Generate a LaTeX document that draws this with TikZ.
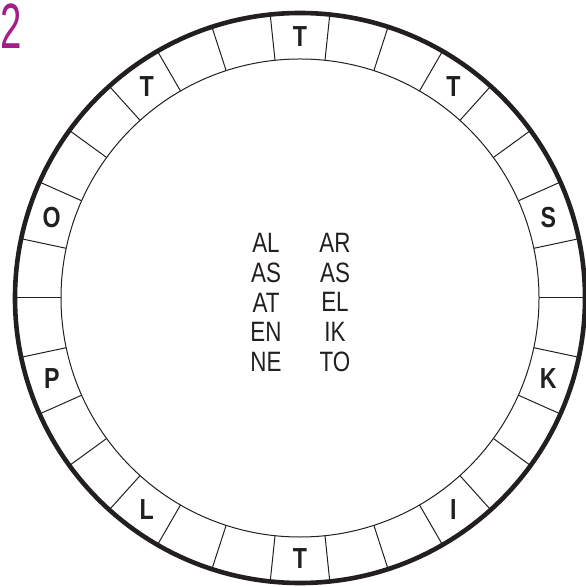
\documentclass[tikz,border=0pt]{standalone}
\usepackage{fontspec}
\setmainfont{Liberation Sans}[FakeStretch=0.8]
\newfontfamily\numberfont{Liberation Sans}[FakeStretch=0.6]
\usepackage{tikz}
\definecolor{ringcolor}{RGB}{35, 31, 32}
\definecolor{numbercolor}{RGB}{163, 30, 138}
\tikzset{
ringletter/.style={
  font=\fontsize{14.5}{14.5}\selectfont\bfseries,
  text=ringcolor,
  inner sep=0pt
},
wordlist/.style={
  align=center,
  font=\fontsize{14}{14.9}\selectfont,
  text=ringcolor,
  inner sep=0pt
},
puzzlenumber/.style={
  font=\numberfont\fontsize{32}{32}\selectfont,
  text=numbercolor,
  inner sep=0pt
},
outerring/.style={
  draw=ringcolor,
  line width=2.3pt
},
innerring/.style={
  draw=ringcolor,
  line width=0.5pt
}
}

\begin{document}
\begin{tikzpicture}[x=0.5pt, y=0.5pt]
        \useasboundingbox (-300,-289) rectangle (285,298);

        % puzzle number
        \node[puzzlenumber, anchor=north west] (number) at (-300, 295) {2};

        % ring
        \draw[innerring] (0,0) circle (239);
        \foreach \a in {0,12,...,348}
          \draw[innerring] (\a:239) -- (\a:285);
        \draw[outerring] (0,0) circle (285);

        % letters in the ring
        \foreach \l/\a/\n in {T/90/a, T/54/b, S/18/c, K/-18/d, I/-54/e,
                              T/-90/f, L/-126/g, P/-162/h, O/162/i, T/126/j}
          \node[ringletter] (letter-\n) at (\a:261) {\l};

        % words
        \node[wordlist] (leftwords) at (-34, -4.5) {AL\\AS\\AT\\EN\\NE};
        \node[wordlist] (rightwords) at (35, -4.5) {AR\\AS\\EL\\IK\\TO};
      \end{tikzpicture}
\end{document}
